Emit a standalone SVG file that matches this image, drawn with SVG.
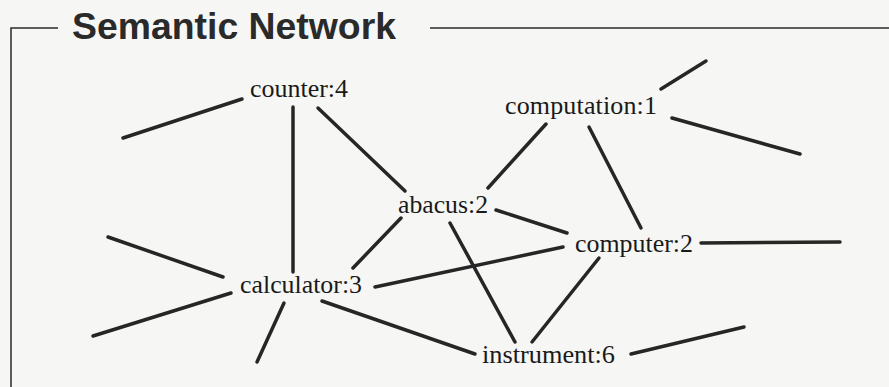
<svg xmlns="http://www.w3.org/2000/svg" width="889" height="387" viewBox="0 0 889 387">
<style>
.frame{stroke:#2a2a2a;stroke-width:1.5;fill:none}
.title{font-family:"Liberation Sans",Arial,sans-serif;font-weight:bold;font-size:37px;fill:#2a2a2a}
.lbl{font-family:"Liberation Serif","Times New Roman",serif;font-size:26px;fill:#1a1a1a}
.edge{stroke:#262626;stroke-width:3.5;stroke-linecap:round;fill:none}
</style>
<rect width="889" height="387" fill="#f6f6f4"/>
<g id="frame">
<path class="frame" d="M11,387 V28 H58 M430,28 H889"/>
<text class="title" x="72" y="39" textLength="324" lengthAdjust="spacingAndGlyphs">Semantic Network</text>
</g>
<g id="connectors">
<line class="edge" x1="123" y1="138" x2="242" y2="99"/>
<line class="edge" x1="293" y1="107" x2="293" y2="272"/>
<line class="edge" x1="318" y1="108" x2="405" y2="191"/>
<line class="edge" x1="661" y1="89" x2="706" y2="61"/>
<line class="edge" x1="672" y1="118" x2="800" y2="154"/>
<line class="edge" x1="546" y1="124" x2="488" y2="188"/>
<line class="edge" x1="589" y1="127" x2="641" y2="228"/>
<line class="edge" x1="496" y1="210" x2="567" y2="233"/>
<line class="edge" x1="450" y1="223" x2="515" y2="342"/>
<line class="edge" x1="401" y1="218" x2="353" y2="268"/>
<line class="edge" x1="375" y1="287" x2="563" y2="247"/>
<line class="edge" x1="322" y1="301" x2="475" y2="354"/>
<line class="edge" x1="108" y1="237" x2="223" y2="277"/>
<line class="edge" x1="93" y1="336" x2="231" y2="293"/>
<line class="edge" x1="284" y1="303" x2="257" y2="362"/>
<line class="edge" x1="701" y1="243" x2="840" y2="242"/>
<line class="edge" x1="599" y1="258" x2="532" y2="342"/>
<line class="edge" x1="631" y1="354" x2="744" y2="327"/>
</g>
<g id="counter"><text class="lbl" x="250" y="97" textLength="98" lengthAdjust="spacingAndGlyphs">counter:4</text></g>
<g id="computation"><text class="lbl" x="505" y="114" textLength="152" lengthAdjust="spacing">computation:1</text></g>
<g id="abacus"><text class="lbl" x="398" y="213" textLength="90" lengthAdjust="spacingAndGlyphs">abacus:2</text></g>
<g id="computer"><text class="lbl" x="575" y="252" textLength="118" lengthAdjust="spacingAndGlyphs">computer:2</text></g>
<g id="calculator"><text class="lbl" x="240" y="293" textLength="122" lengthAdjust="spacingAndGlyphs">calculator:3</text></g>
<g id="instrument"><text class="lbl" x="482" y="363" textLength="133" lengthAdjust="spacingAndGlyphs">instrument:6</text></g>
</svg>
